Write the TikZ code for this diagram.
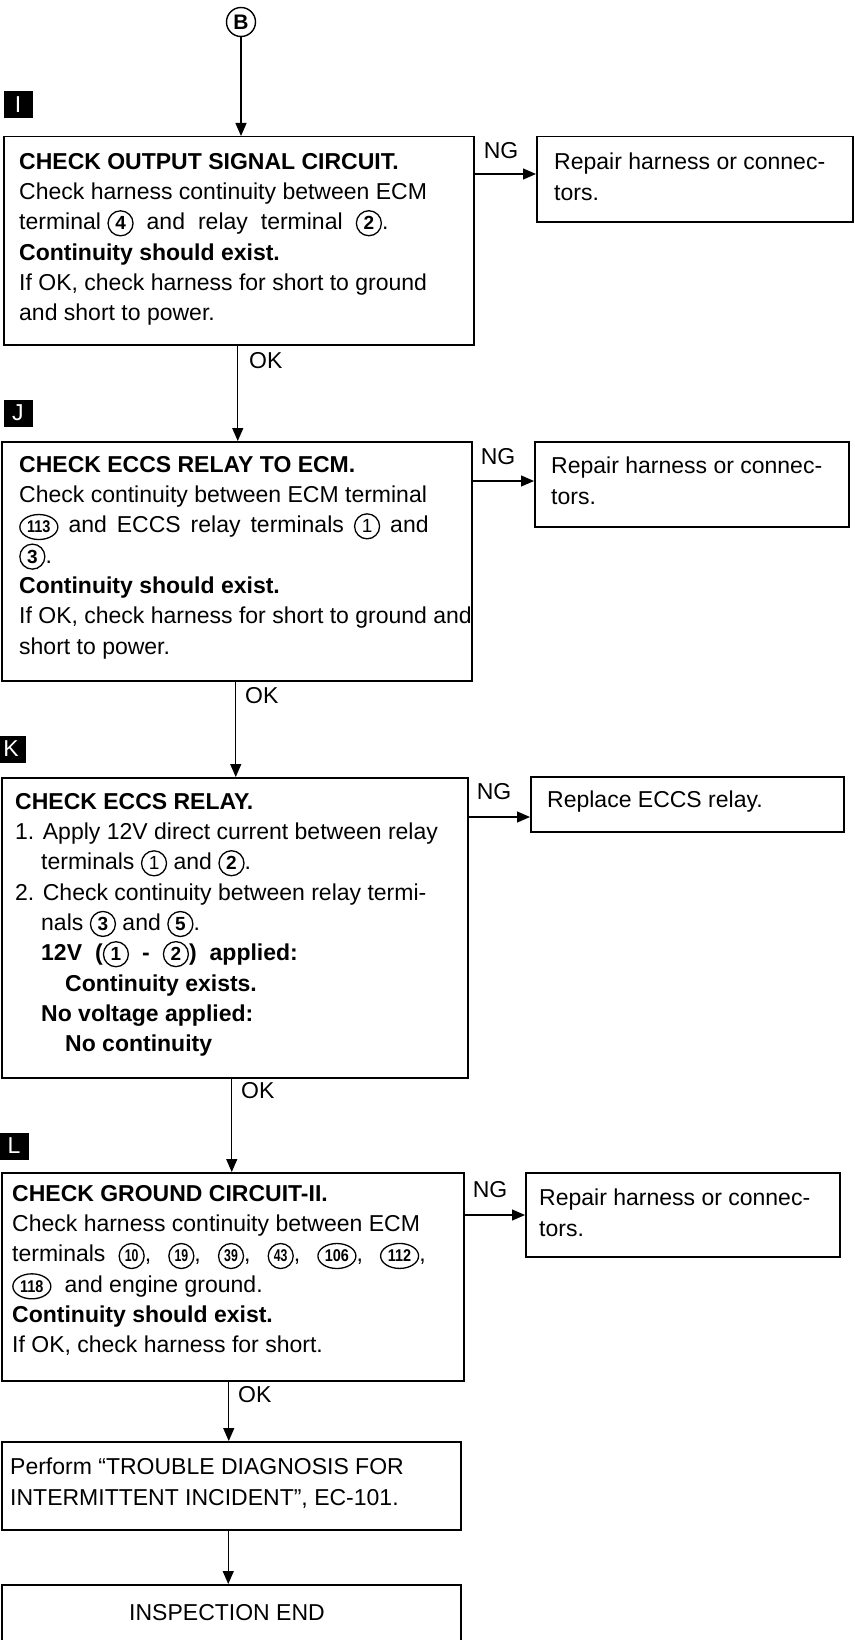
\documentclass[tikz,border=0pt]{standalone}
\usepackage{fontspec}
\setmainfont{Liberation Sans}
\usetikzlibrary{arrows.meta,shapes.geometric}
\newcommand\cn[1]{\tikz[baseline=(c.base)]\node[circle,draw,line width=1.3pt,inner sep=0pt,minimum size=25pt,font=\fontsize{19}{19}\selectfont\bfseries](c){#1};}
\newcommand\cnl[1]{\tikz[baseline=(c.base)]\node[circle,draw,line width=1.3pt,inner sep=0pt,minimum size=25pt,font=\fontsize{19}{19}\selectfont](c){#1};}
\newcommand\cs[1]{\tikz[baseline=(c.base)]\node[circle,draw,line width=1.3pt,inner sep=0pt,minimum size=25pt,font=\fontsize{17}{17}\selectfont\bfseries](c){\scalebox{0.72}[1]{#1}};}
\newcommand\ce[1]{\tikz[baseline=(c.base)]\node[ellipse,draw,line width=1.3pt,inner sep=0pt,minimum width=38pt,minimum height=25pt,font=\fontsize{17}{17}\selectfont\bfseries](c){\scalebox{0.85}[1]{#1}};}
\newcommand\sk{\hspace*{13pt}}
\newcommand\skn{\hspace*{10pt}}
\newcommand\skw{\hspace*{17pt}}
\tikzset{
  box/.style={draw,line width=1.5pt,inner sep=0pt,anchor=north west},
  txt/.style={inner sep=0pt,align=left,anchor=north west,font={\fontsize{23}{30.3}\selectfont\lineskiplimit=-20pt\lineskip=0pt}},
  lbl/.style={inner sep=0pt,font=\fontsize{23}{23}\selectfont},
  sq/.style={fill=black,text=white,inner sep=0pt,minimum width=29pt,minimum height=27pt,font=\fontsize{23}{23}\selectfont},
  arr/.style={line width=1.3pt,-{Triangle[length=13pt,width=11pt]}}
}
\begin{document}
\begin{tikzpicture}[x=1pt,y=-1pt]
\useasboundingbox (0,0) rectangle (854,1640);
% start
\node[circle,draw,line width=1.4pt,inner sep=0pt,minimum size=29pt,font=\fontsize{21}{21}\selectfont\bfseries] (B) at (241,22) {B};
% square labels
\node[sq] (sI) at (18,105) {I};
\node[sq] (sJ) at (18,413) {J};
\node[sq] (sK) at (11,749) {K};
\node[sq] (sL) at (14,1146) {L};
% box I
\node[box,minimum width=470pt,minimum height=208pt] (bI) at (3,136) {};
\node[txt] (tI) at (19,153) {\textbf{CHECK OUTPUT SIGNAL CIRCUIT.}\\
Check harness continuity between ECM\\
terminal \cn{4}\sk and\sk relay\sk terminal\sk\cn{2}.\\
\textbf{Continuity should exist.}\\
If OK, check harness for short to ground\\
and short to power.};
\node[box,minimum width=316pt,minimum height=85pt] (rI) at (536,136) {};
\node[txt] (trI) at (554,153) {Repair harness or connec-\\tors.};
\node[lbl] (ngI) at (501,151) {NG};
\coordinate (aI) at ([yshift=-38pt]bI.north east);
\draw[arr] (aI) -- (aI -| rI.west);
\draw[arr] (B.south) -- (B.south |- bI.north);
% box J
\node[box,minimum width=470pt,minimum height=239pt] (bJ) at (1,441) {};
\node[txt] (tJ) at (19,456) {\textbf{CHECK ECCS RELAY TO ECM.}\\
Check continuity between ECM terminal\\
\ce{113}\skn and\skn ECCS\skn relay\skn terminals\skn\cnl{1}\skn and\\
\cn{3}.\\
\textbf{Continuity should exist.}\\
If OK, check harness for short to ground and\\
short to power.};
\node[box,minimum width=314pt,minimum height=85pt] (rJ) at (534,441) {};
\node[txt] (trJ) at (551,457) {Repair harness or connec-\\tors.};
\node[lbl] (ngJ) at (498,457) {NG};
\coordinate (aJ) at ([yshift=-40pt]bJ.north east);
\draw[arr] (aJ) -- (aJ -| rJ.west);
\coordinate (oI) at ([xshift=-1pt]bI.south);
\draw[arr] (oI) -- (oI |- bJ.north);
\node[lbl,anchor=west] (okI) at (249,361) {OK};
% box K
\node[box,minimum width=466pt,minimum height=300pt] (bK) at (1,777) {};
\node[txt] (tK) at (15,793) {\textbf{CHECK ECCS RELAY.}\\
1. Apply 12V direct current between relay\\
\hspace*{26pt}terminals \cnl{1} and \cn{2}.\\
2. Check continuity between relay termi-\\
\hspace*{26pt}nals \cn{3} and \cn{5}.\\
\hspace*{26pt}\textbf{12V\sk(\cnl{1}\sk-\sk\cn{2})\sk applied:}\\
\hspace*{50pt}\textbf{Continuity exists.}\\
\hspace*{26pt}\textbf{No voltage applied:}\\
\hspace*{50pt}\textbf{No continuity}};
\node[box,minimum width=313pt,minimum height=55pt] (rK) at (530,776) {};
\node[txt] (trK) at (547,791) {Replace ECCS relay.};
\node[lbl] (ngK) at (494,792) {NG};
\coordinate (aK) at ([yshift=-40pt]bK.north east);
\draw[arr] (aK) -- (aK -| rK.west);
\coordinate (oJ) at ([xshift=-1pt]bJ.south);
\draw[arr] (oJ) -- (oJ |- bK.north);
\node[lbl,anchor=west] (okJ) at (245,696) {OK};
% box L
\node[box,minimum width=462pt,minimum height=208pt] (bL) at (1,1172) {};
\node[txt] (tL) at (12,1185) {\textbf{CHECK GROUND CIRCUIT-II.}\\
Check harness continuity between ECM\\
terminals\sk\cs{10},\skw\cs{19},\skw\cs{39},\skw\cs{43},\skw\ce{106},\skw\ce{112},\\
\ce{118}\sk and engine ground.\\
\textbf{Continuity should exist.}\\
If OK, check harness for short.};
\node[box,minimum width=314pt,minimum height=84pt] (rL) at (525,1172) {};
\node[txt] (trL) at (539,1189) {Repair harness or connec-\\tors.};
\node[lbl] (ngL) at (490,1190) {NG};
\coordinate (aL) at ([yshift=-43pt]bL.north east);
\draw[arr] (aL) -- (aL -| rL.west);
\coordinate (oK) at ([xshift=-3pt]bK.south);
\draw[arr] (oK) -- (oK |- bL.north);
\node[lbl,anchor=west] (okK) at (241,1091) {OK};
% perform
\node[box,minimum width=459pt,minimum height=88pt] (bP) at (1,1441) {};
\node[txt] (tP) at (10,1458) {Perform “TROUBLE DIAGNOSIS FOR\\
INTERMITTENT INCIDENT”, EC-101.};
\coordinate (oL) at ([xshift=-4pt]bL.south);
\draw[arr] (oL) -- (oL |- bP.north);
\node[lbl,anchor=west] (okL) at (238,1395) {OK};
% end
\node[box,minimum width=459pt,minimum height=80pt] (bE) at (1,1584) {};
\node[lbl] (tE) at (227,1613) {INSPECTION END};
\coordinate (oP) at ([xshift=-3pt]bP.south);
\draw[arr] (oP) -- (oP |- bE.north);
\end{tikzpicture}
\end{document}
